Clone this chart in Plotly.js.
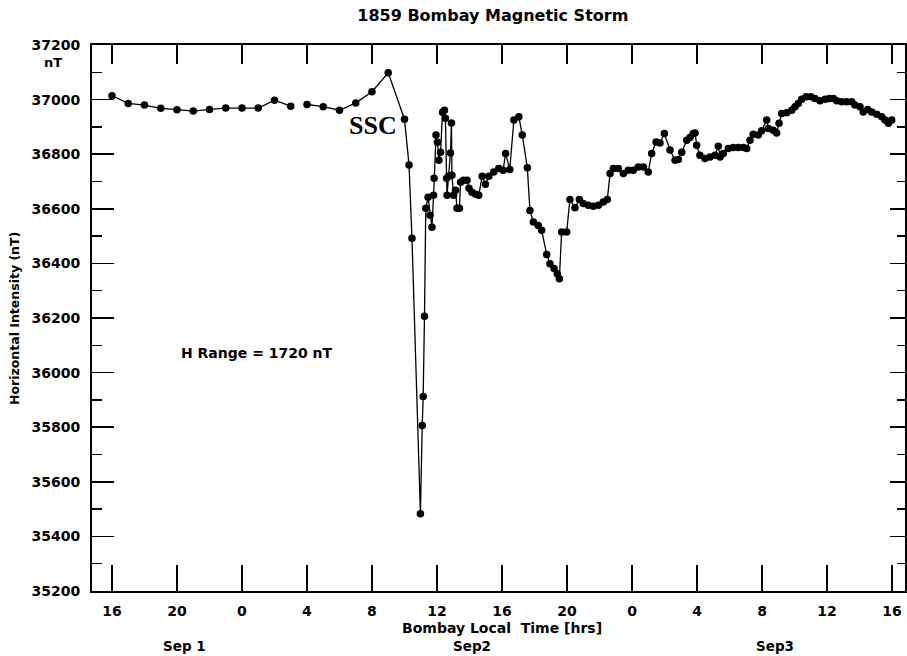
<!DOCTYPE html>
<html>
<head>
<meta charset="utf-8">
<script src="https://cdn.plot.ly/plotly-3.0.1.min.js"></script>
<style>html,body{margin:0;padding:0;background:#fff;}#chart{width:907px;height:656px;}</style>
</head>
<body>
<div id="chart"></div>
<script>
// Time in hours counted from Sep 1 00:00 Bombay local time
const time_hr = [
  16,17,18,19,20,21,22,23,24,25,26,27,27.5,28,29,30,31,32,33,34,
  34.28,34.46,34.98,35.09,35.15,35.23,35.31,35.45,35.57,35.69,
  35.79,35.82,35.94,36.03,36.12,36.22,36.34,36.46,36.52,36.59,
  36.62,36.71,36.83,36.89,36.92,37.02,37.14,37.23,37.38,37.45,
  37.63,37.85,37.97,38.15,38.37,38.57,38.78,38.98,39.19,39.49,
  39.80,40.07,40.22,40.48,40.73,41.04,41.25,41.56,41.72,41.93,
  42.23,42.44,42.75,42.95,43.20,43.40,43.53,43.67,43.98,44.18,
  44.49,44.76,45.00,45.31,45.62,45.93,46.23,46.48,46.65,46.85,
  47.16,47.47,47.77,48.08,48.39,48.70,49.00,49.21,49.48,49.72,
  49.99,50.34,50.65,50.85,51.06,51.37,51.57,51.77,51.88,51.98,
  52.18,52.49,52.80,53.11,53.31,53.42,53.62,53.93,54.23,54.54,
  54.85,55.06,55.26,55.46,55.77,55.98,56.29,56.39,56.69,56.90,
  57.05,57.21,57.52,57.83,58.03,58.23,58.44,58.71,59.00,59.26,
  59.57,59.88,60.14,60.39,60.60,60.90,61.21,61.52,61.72,62.03,
  62.23,62.50,62.75,63.06,63.37,63.57,63.78,63.98
];
// Horizontal intensity H (nT); null = gap in the record
const h_nT = [
  37014,36986,36980,36968,36963,36958,36964,36969,36969,36969,36998,36976,null,36982,36974,36961,36988,37029,37098,36928,
  36760,36492,35483,35806,35912,36206,36602,36642,36576,36532,
  36650,36712,36870,36844,36778,36807,36954,36961,36932,36712,
  36650,36719,36804,36914,36723,36650,36668,36602,36602,36697,
  36705,36705,36675,36661,36653,36650,36719,36690,36719,36735,
  36748,36741,36803,36744,36925,36937,36870,36750,36594,36552,
  36539,36521,36433,36399,36381,36362,36344,36515,36515,36634,
  36604,36634,36619,36613,36609,36613,36625,36634,36729,36748,
  36748,36729,36741,36741,36753,36753,36735,36803,36845,36841,
  36876,36815,36778,36781,36807,36851,36861,36876,36878,36833,
  36796,36784,36790,36796,36829,36790,36803,36821,36825,36825,
  36825,36821,36851,36873,36870,36886,36925,36894,36888,36878,
  36913,36949,36952,36961,36974,36986,37001,37010,37010,37004,
  36996,37001,37004,37004,36996,36992,36992,36992,36980,36974,
  36955,36964,36955,36946,36937,36925,36913,36925
];
if (time_hr.length !== h_nT.length) throw new Error('length mismatch ' + time_hr.length + ' vs ' + h_nT.length);

const x_tickvals = [16,20,24,28,32,36,40,44,48,52,56,60,64];
const x_ticktext = ['16','20','0','4','8','12','16','20','0','4','8','12','16'];
const y_tickvals = [35200,35400,35600,35800,36000,36200,36400,36600,36800,37000,37200];
const y_ticktext = ['35200','35400','35600','35800','36000','36200','36400','36600','36800','37000','37200'];
const y_minorvals = [35300,35500,35700,35900,36100,36300,36500,36700,36900,37100];
const day_labels = ['Sep 1','Sep2','Sep3'];

const F = 'DejaVu Sans';
const xr = [14.77, 64.8], yr = [35200, 37200];
const trace = {
  x: time_hr, y: h_nT, type: 'scatter', mode: 'lines+markers',
  connectgaps: false,
  line: {color: 'black', width: 1.3},
  marker: {color: 'black', size: 7.5, symbol: 'circle'},
  hoverinfo: 'skip'
};
const frameTrace = {x: [], y: [], xaxis: 'x2', yaxis: 'y2', type: 'scatter', mode: 'markers', hoverinfo: 'skip'};

const W = 813, H = 546;
function px2x(p){ return (p - 92) / W; }
function py2y(p){ return (591 - p) / H; }

const layout = {
  width: 907, height: 656,
  margin: {l: 92, r: 2, t: 45, b: 65, pad: 0},
  paper_bgcolor: 'white', plot_bgcolor: 'white',
  showlegend: false,
  title: {text: '1859 Bombay Magnetic Storm', font: {family: F, size: 16, color: 'black', weight: 'bold'},
          xref: 'paper', x: 0.493, xanchor: 'center', yref: 'container', y: 1 - 15/656, yanchor: 'middle'},
  xaxis: {range: xr, tickmode: 'array', tickvals: x_tickvals, ticktext: x_ticktext,
          ticks: 'inside', ticklen: 26, tickwidth: 1.5, tickcolor: 'black',
          showline: true, linewidth: 2, linecolor: 'black', showgrid: false, zeroline: false,
          tickfont: {family: F, size: 14, color: 'black', weight: 'bold'}, ticklabelstandoff: 6},
  xaxis2: {range: xr, overlaying: 'x', side: 'top', anchor: 'y', tickmode: 'array', tickvals: x_tickvals,
          ticks: 'inside', ticklen: 19, tickwidth: 1.5, tickcolor: 'black', showticklabels: false,
          showline: true, linewidth: 2, linecolor: 'black', showgrid: false, zeroline: false},
  yaxis: {range: yr, tickmode: 'array', tickvals: y_tickvals, ticktext: y_ticktext,
          ticks: 'inside', ticklen: 22, tickwidth: 1.5, tickcolor: 'black',
          minor: {tickmode: 'array', tickvals: y_minorvals, ticks: 'inside', ticklen: 10, tickwidth: 1.5, tickcolor: 'black', showgrid: false},
          showline: true, linewidth: 2, linecolor: 'black', showgrid: false, zeroline: false,
          tickfont: {family: F, size: 14, color: 'black', weight: 'bold'}, ticklabelstandoff: 7},
  yaxis2: {range: yr, overlaying: 'y', side: 'right', anchor: 'x', tickmode: 'array', tickvals: y_tickvals,
          ticks: 'inside', ticklen: 15, tickwidth: 1.5, tickcolor: 'black', showticklabels: false,
          minor: {tickmode: 'array', tickvals: y_minorvals, ticks: 'inside', ticklen: 8, tickwidth: 1.5, tickcolor: 'black', showgrid: false},
          showline: true, linewidth: 2, linecolor: 'black', showgrid: false, zeroline: false},
  annotations: [
    {text: 'nT', xref: 'paper', yref: 'paper', x: px2x(53), y: py2y(62), xanchor: 'center', yanchor: 'middle', showarrow: false,
     font: {family: F, size: 13, color: 'black', weight: 'bold'}},
    {text: 'Horizontal Intensity (nT)', xref: 'paper', yref: 'paper', x: px2x(14), y: py2y(319), textangle: -90,
     xanchor: 'center', yanchor: 'middle', showarrow: false, font: {family: F, size: 12.5, color: 'black', weight: 'bold'}},
    {text: 'Bombay Local  Time [hrs]', xref: 'paper', yref: 'paper', x: px2x(502), y: py2y(628),
     xanchor: 'center', yanchor: 'middle', showarrow: false, font: {family: F, size: 14, color: 'black', weight: 'bold'}},
    {text: day_labels[0], xref: 'paper', yref: 'paper', x: px2x(184), y: py2y(646), xanchor: 'center', yanchor: 'middle', showarrow: false,
     font: {family: F, size: 13.5, color: 'black', weight: 'bold'}},
    {text: day_labels[1], xref: 'paper', yref: 'paper', x: px2x(472), y: py2y(646), xanchor: 'center', yanchor: 'middle', showarrow: false,
     font: {family: F, size: 13.5, color: 'black', weight: 'bold'}},
    {text: day_labels[2], xref: 'paper', yref: 'paper', x: px2x(775), y: py2y(646), xanchor: 'center', yanchor: 'middle', showarrow: false,
     font: {family: F, size: 13.5, color: 'black', weight: 'bold'}},
    {text: 'H Range = 1720 nT', xref: 'paper', yref: 'paper', x: px2x(257), y: py2y(353), xanchor: 'center', yanchor: 'middle', showarrow: false,
     font: {family: F, size: 14, color: 'black', weight: 'bold'}},
    {text: 'SSC', xref: 'paper', yref: 'paper', x: px2x(372.5), y: py2y(125), xanchor: 'center', yanchor: 'middle', showarrow: false,
     font: {family: 'Liberation Serif', size: 26, color: 'black', weight: 'bold'}}
  ]
};
Plotly.newPlot('chart', [trace, frameTrace], layout, {staticPlot: true, displayModeBar: false});
</script>
</body>
</html>
